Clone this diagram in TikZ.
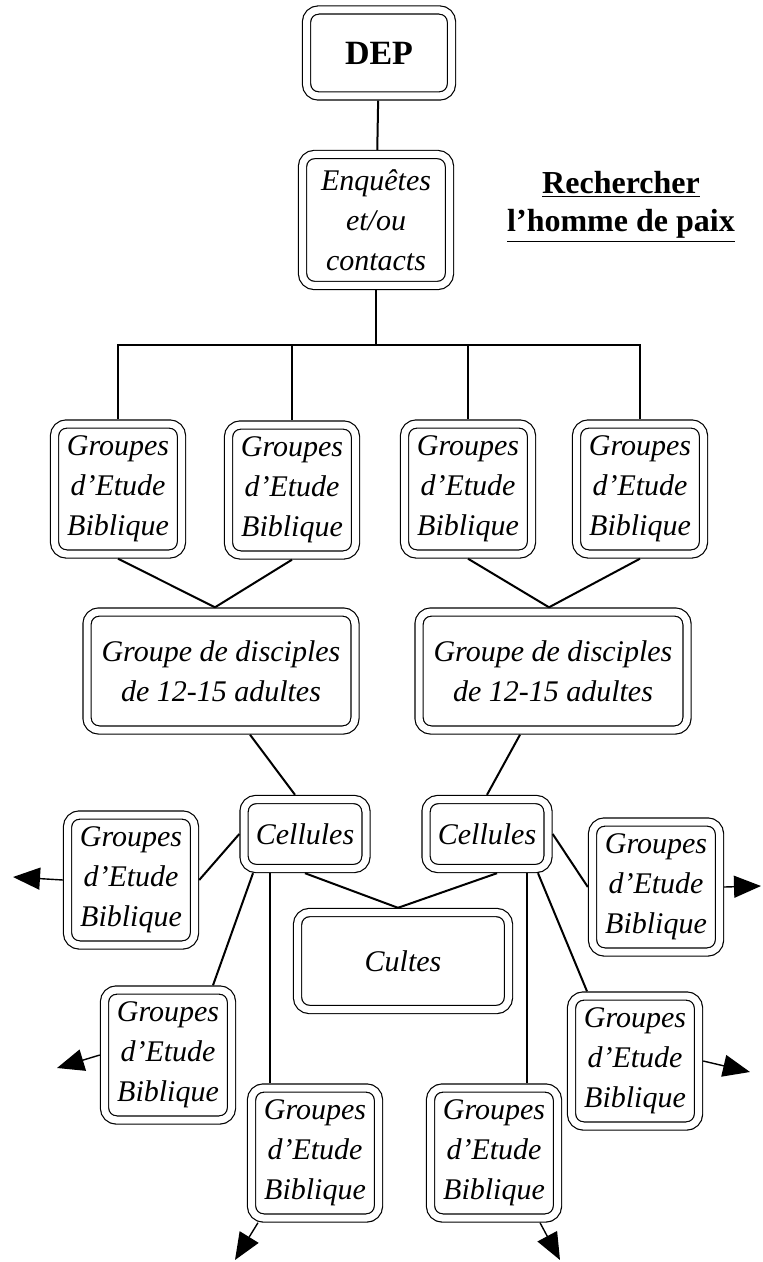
\documentclass[tikz,border=0pt]{standalone}
\usepackage{fontspec}
\setmainfont{Liberation Serif}
\usepackage{tikz}
\usetikzlibrary{arrows.meta}

\begin{document}
\begin{tikzpicture}[x=0.5pt,y=-0.5pt]
        \tikzset{box/.style = {draw, double, double distance=3.5pt, line width=0.6pt, rounded corners=6pt, inner sep=0pt, outer sep=2.35pt, align=center, font=\fontsize{15}{20}\selectfont\itshape}}
        \tikzset{gbox/.style = {box, minimum width=63.5pt, minimum height=65pt}}
        \tikzset{link/.style = {line width=1pt}}
        \tikzset{edge/.style = {-{Triangle[length=13.5pt,width=11pt]}, line width=0.7pt}}

        \useasboundingbox (0,0) rectangle (762,1262);

        % top
        \node[box, minimum width=72.5pt, minimum height=43pt, font=\fontsize{17}{20}\selectfont\bfseries] (1) at (379,53) {DEP};
        \node[box, minimum width=73.5pt, minimum height=65.5pt] (2) at (376,220) {Enquêtes\\et/ou\\contacts};
        \node[font=\fontsize{16}{19}\selectfont\bfseries, align=center] (18) at (621,207) {\underline{Rechercher}\\\underline{l’homme de paix}};

        % first groups
        \node[gbox] (3) at (118,489) {Groupes\\d’Etude\\Biblique};
        \node[gbox] (4) at (292,490) {Groupes\\d’Etude\\Biblique};
        \node[gbox] (5) at (468,489) {Groupes\\d’Etude\\Biblique};
        \node[gbox] (6) at (640,489) {Groupes\\d’Etude\\Biblique};

        % disciples
        \node[box, minimum width=134pt, minimum height=59pt] (7) at (221,671) {Groupe de disciples\\de 12-15 adultes};
        \node[box, minimum width=134pt, minimum height=59pt] (8) at (553,671) {Groupe de disciples\\de 12-15 adultes};

        % cells
        \node[box, minimum width=61pt, minimum height=34.5pt] (9) at (305,834) {Cellules};
        \node[box, minimum width=61pt, minimum height=34.5pt] (10) at (487,834) {Cellules};
        \node[box, minimum width=105.5pt, minimum height=48.5pt] (11) at (403,961) {Cultes};

        % new groups
        \node[gbox] (12) at (131,880) {Groupes\\d’Etude\\Biblique};
        \node[gbox] (13) at (168,1055) {Groupes\\d’Etude\\Biblique};
        \node[gbox] (14) at (315,1153) {Groupes\\d’Etude\\Biblique};
        \node[gbox] (15) at (656,887) {Groupes\\d’Etude\\Biblique};
        \node[gbox] (16) at (635,1061) {Groupes\\d’Etude\\Biblique};
        \node[gbox] (17) at (494,1153) {Groupes\\d’Etude\\Biblique};

        % tree
        \coordinate (bus) at (376,345);
        \draw[link] (1) -- (2);
        \draw[link] (2) -- (bus);
        \foreach \n in {3,4,5,6} \draw[link] (bus) -| (\n.north);
        \draw[link] (3.south) -- ([xshift=-3pt]7.north);
        \draw[link] (4.south) -- ([xshift=-3pt]7.north);
        \draw[link] (5.south) -- ([xshift=-2pt]8.north);
        \draw[link] (6.south) -- ([xshift=-2pt]8.north);
        \draw[link] ([xshift=14.5pt]7.south) -- ([xshift=-5pt]9.north);
        \draw[link] ([xshift=-16.5pt]8.south) -- (10.north);

        % cultes
        \draw[link] (9.south) -- ([xshift=-2.5pt]11.north);
        \draw[link] ([xshift=5pt]10.south) -- ([xshift=-2.5pt]11.north);

        % cells to groups
        \draw[link] (9.west) -- (12.east);
        \draw[link] ([xshift=-26pt]9.south) -- ([xshift=22.5pt]13.north);
        \draw[link] ([xshift=-17.5pt]9.south) -- ([xshift=-22.5pt]14.north);
        \draw[link] (10.east) -- (15.west);
        \draw[link] ([xshift=25.5pt]10.south) -- ([xshift=-24pt]16.north);
        \draw[link] ([xshift=20pt]10.south) -- ([xshift=16.5pt]17.north);

        % going on
        \coordinate (a12) at (13,877);
        \coordinate (a13) at (57,1068);
        \coordinate (a14) at (235,1260);
        \coordinate (a15) at (761,886);
        \coordinate (a16) at (750,1072);
        \coordinate (a17) at (560,1260);
        \draw[edge] (12.west) -- (a12);
        \draw[edge] (13.west) -- (a13);
        \draw[edge] ([xshift=-28.5pt]14.south) -- (a14);
        \draw[edge] (15.east) -- (a15);
        \draw[edge] (16.east) -- (a16);
        \draw[edge] ([xshift=23pt]17.south) -- (a17);

\end{tikzpicture}
\end{document}
